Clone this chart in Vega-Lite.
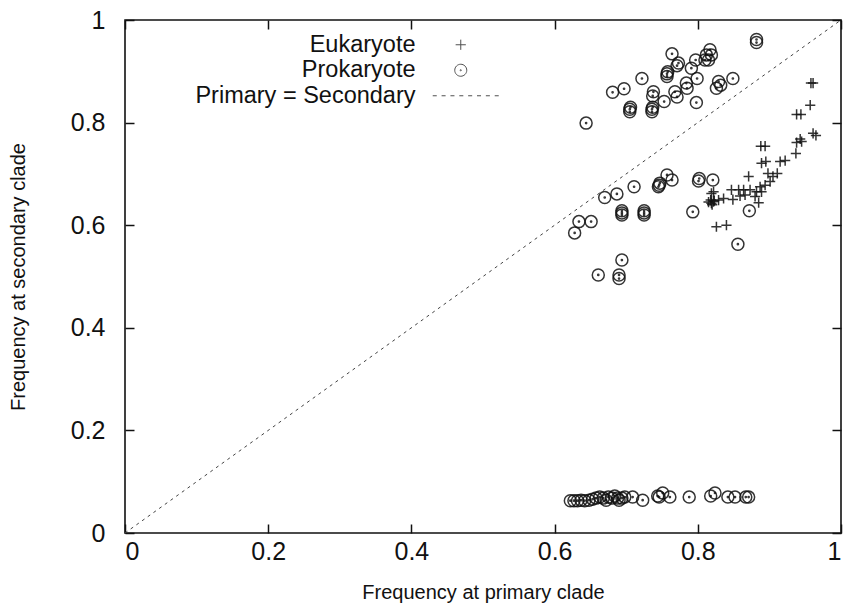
{
  "$schema": "https://vega.github.io/schema/vega-lite/v6.json",
  "width": 716,
  "height": 513,
  "autosize": {"type": "none"},
  "padding": {"left": 125, "top": 20, "right": 2, "bottom": 71},
  "background": "white",
  "config": {
    "font": "Liberation Sans",
    "view": {"stroke": "#111", "strokeWidth": 1.6},
    "axis": {
      "domain": false,
      "grid": false,
      "ticks": true,
      "tickColor": "#111",
      "tickWidth": 1.5,
      "tickSize": -9,
      "labelFont": "Liberation Sans",
      "labelFontSize": 25,
      "labelColor": "#111",
      "titleFont": "Liberation Sans",
      "titleFontSize": 20,
      "titleFontWeight": "normal",
      "titleColor": "#111"
    },
    "legend": {
      "labelFont": "Liberation Sans",
      "labelFontSize": 23.5,
      "labelColor": "#111"
    }
  },
  "datasets": {
    "diag": [{"p": 0, "s": 0}, {"p": 1, "s": 1}],
    "pts": [
      {"p": 0.965, "s": 0.775, "t": "Eukaryote"},
      {"p": 0.961, "s": 0.779, "t": "Eukaryote"},
      {"p": 0.938, "s": 0.761, "t": "Eukaryote"},
      {"p": 0.945, "s": 0.763, "t": "Eukaryote"},
      {"p": 0.937, "s": 0.740, "t": "Eukaryote"},
      {"p": 0.922, "s": 0.726, "t": "Eukaryote"},
      {"p": 0.915, "s": 0.724, "t": "Eukaryote"},
      {"p": 0.894, "s": 0.754, "t": "Eukaryote"},
      {"p": 0.888, "s": 0.754, "t": "Eukaryote"},
      {"p": 0.895, "s": 0.724, "t": "Eukaryote"},
      {"p": 0.889, "s": 0.721, "t": "Eukaryote"},
      {"p": 0.911, "s": 0.701, "t": "Eukaryote"},
      {"p": 0.905, "s": 0.695, "t": "Eukaryote"},
      {"p": 0.898, "s": 0.701, "t": "Eukaryote"},
      {"p": 0.901, "s": 0.685, "t": "Eukaryote"},
      {"p": 0.894, "s": 0.678, "t": "Eukaryote"},
      {"p": 0.887, "s": 0.675, "t": "Eukaryote"},
      {"p": 0.889, "s": 0.665, "t": "Eukaryote"},
      {"p": 0.882, "s": 0.665, "t": "Eukaryote"},
      {"p": 0.885, "s": 0.644, "t": "Eukaryote"},
      {"p": 0.871, "s": 0.695, "t": "Eukaryote"},
      {"p": 0.873, "s": 0.669, "t": "Eukaryote"},
      {"p": 0.864, "s": 0.669, "t": "Eukaryote"},
      {"p": 0.866, "s": 0.659, "t": "Eukaryote"},
      {"p": 0.857, "s": 0.669, "t": "Eukaryote"},
      {"p": 0.859, "s": 0.657, "t": "Eukaryote"},
      {"p": 0.847, "s": 0.669, "t": "Eukaryote"},
      {"p": 0.849, "s": 0.650, "t": "Eukaryote"},
      {"p": 0.836, "s": 0.652, "t": "Eukaryote"},
      {"p": 0.829, "s": 0.649, "t": "Eukaryote"},
      {"p": 0.822, "s": 0.646, "t": "Eukaryote"},
      {"p": 0.819, "s": 0.643, "t": "Eukaryote"},
      {"p": 0.818, "s": 0.649, "t": "Eukaryote"},
      {"p": 0.815, "s": 0.645, "t": "Eukaryote"},
      {"p": 0.823, "s": 0.648, "t": "Eukaryote"},
      {"p": 0.820, "s": 0.640, "t": "Eukaryote"},
      {"p": 0.822, "s": 0.665, "t": "Eukaryote"},
      {"p": 0.819, "s": 0.662, "t": "Eukaryote"},
      {"p": 0.826, "s": 0.597, "t": "Eukaryote"},
      {"p": 0.840, "s": 0.600, "t": "Eukaryote"},
      {"p": 0.880, "s": 0.656, "t": "Eukaryote"},
      {"p": 0.961, "s": 0.877, "t": "Eukaryote"},
      {"p": 0.958, "s": 0.877, "t": "Eukaryote"},
      {"p": 0.957, "s": 0.834, "t": "Eukaryote"},
      {"p": 0.938, "s": 0.816, "t": "Eukaryote"},
      {"p": 0.944, "s": 0.816, "t": "Eukaryote"},
      {"p": 0.943, "s": 0.768, "t": "Eukaryote"},
      {"p": 0.644, "s": 0.799, "t": "Prokaryote"},
      {"p": 0.681, "s": 0.859, "t": "Prokaryote"},
      {"p": 0.697, "s": 0.866, "t": "Prokaryote"},
      {"p": 0.705, "s": 0.821, "t": "Prokaryote"},
      {"p": 0.705, "s": 0.826, "t": "Prokaryote"},
      {"p": 0.706, "s": 0.830, "t": "Prokaryote"},
      {"p": 0.722, "s": 0.886, "t": "Prokaryote"},
      {"p": 0.736, "s": 0.821, "t": "Prokaryote"},
      {"p": 0.736, "s": 0.826, "t": "Prokaryote"},
      {"p": 0.737, "s": 0.830, "t": "Prokaryote"},
      {"p": 0.738, "s": 0.860, "t": "Prokaryote"},
      {"p": 0.737, "s": 0.852, "t": "Prokaryote"},
      {"p": 0.753, "s": 0.841, "t": "Prokaryote"},
      {"p": 0.757, "s": 0.890, "t": "Prokaryote"},
      {"p": 0.757, "s": 0.895, "t": "Prokaryote"},
      {"p": 0.758, "s": 0.899, "t": "Prokaryote"},
      {"p": 0.764, "s": 0.934, "t": "Prokaryote"},
      {"p": 0.773, "s": 0.916, "t": "Prokaryote"},
      {"p": 0.771, "s": 0.911, "t": "Prokaryote"},
      {"p": 0.768, "s": 0.860, "t": "Prokaryote"},
      {"p": 0.771, "s": 0.850, "t": "Prokaryote"},
      {"p": 0.784, "s": 0.877, "t": "Prokaryote"},
      {"p": 0.785, "s": 0.867, "t": "Prokaryote"},
      {"p": 0.791, "s": 0.906, "t": "Prokaryote"},
      {"p": 0.797, "s": 0.922, "t": "Prokaryote"},
      {"p": 0.799, "s": 0.886, "t": "Prokaryote"},
      {"p": 0.798, "s": 0.839, "t": "Prokaryote"},
      {"p": 0.812, "s": 0.932, "t": "Prokaryote"},
      {"p": 0.810, "s": 0.922, "t": "Prokaryote"},
      {"p": 0.817, "s": 0.942, "t": "Prokaryote"},
      {"p": 0.819, "s": 0.932, "t": "Prokaryote"},
      {"p": 0.815, "s": 0.922, "t": "Prokaryote"},
      {"p": 0.829, "s": 0.880, "t": "Prokaryote"},
      {"p": 0.832, "s": 0.873, "t": "Prokaryote"},
      {"p": 0.826, "s": 0.867, "t": "Prokaryote"},
      {"p": 0.849, "s": 0.886, "t": "Prokaryote"},
      {"p": 0.882, "s": 0.956, "t": "Prokaryote"},
      {"p": 0.882, "s": 0.962, "t": "Prokaryote"},
      {"p": 0.757, "s": 0.698, "t": "Prokaryote"},
      {"p": 0.764, "s": 0.688, "t": "Prokaryote"},
      {"p": 0.747, "s": 0.682, "t": "Prokaryote"},
      {"p": 0.745, "s": 0.675, "t": "Prokaryote"},
      {"p": 0.746, "s": 0.678, "t": "Prokaryote"},
      {"p": 0.711, "s": 0.675, "t": "Prokaryote"},
      {"p": 0.687, "s": 0.661, "t": "Prokaryote"},
      {"p": 0.670, "s": 0.654, "t": "Prokaryote"},
      {"p": 0.802, "s": 0.691, "t": "Prokaryote"},
      {"p": 0.801, "s": 0.686, "t": "Prokaryote"},
      {"p": 0.694, "s": 0.624, "t": "Prokaryote"},
      {"p": 0.694, "s": 0.628, "t": "Prokaryote"},
      {"p": 0.694, "s": 0.620, "t": "Prokaryote"},
      {"p": 0.725, "s": 0.624, "t": "Prokaryote"},
      {"p": 0.725, "s": 0.628, "t": "Prokaryote"},
      {"p": 0.725, "s": 0.620, "t": "Prokaryote"},
      {"p": 0.793, "s": 0.626, "t": "Prokaryote"},
      {"p": 0.634, "s": 0.607, "t": "Prokaryote"},
      {"p": 0.651, "s": 0.607, "t": "Prokaryote"},
      {"p": 0.628, "s": 0.585, "t": "Prokaryote"},
      {"p": 0.694, "s": 0.532, "t": "Prokaryote"},
      {"p": 0.661, "s": 0.503, "t": "Prokaryote"},
      {"p": 0.690, "s": 0.503, "t": "Prokaryote"},
      {"p": 0.690, "s": 0.496, "t": "Prokaryote"},
      {"p": 0.821, "s": 0.688, "t": "Prokaryote"},
      {"p": 0.872, "s": 0.628, "t": "Prokaryote"},
      {"p": 0.856, "s": 0.563, "t": "Prokaryote"},
      {"p": 0.622, "s": 0.063, "t": "Prokaryote"},
      {"p": 0.627, "s": 0.063, "t": "Prokaryote"},
      {"p": 0.632, "s": 0.063, "t": "Prokaryote"},
      {"p": 0.637, "s": 0.064, "t": "Prokaryote"},
      {"p": 0.642, "s": 0.063, "t": "Prokaryote"},
      {"p": 0.648, "s": 0.064, "t": "Prokaryote"},
      {"p": 0.653, "s": 0.066, "t": "Prokaryote"},
      {"p": 0.658, "s": 0.068, "t": "Prokaryote"},
      {"p": 0.663, "s": 0.070, "t": "Prokaryote"},
      {"p": 0.668, "s": 0.068, "t": "Prokaryote"},
      {"p": 0.672, "s": 0.064, "t": "Prokaryote"},
      {"p": 0.675, "s": 0.070, "t": "Prokaryote"},
      {"p": 0.680, "s": 0.068, "t": "Prokaryote"},
      {"p": 0.684, "s": 0.072, "t": "Prokaryote"},
      {"p": 0.688, "s": 0.068, "t": "Prokaryote"},
      {"p": 0.690, "s": 0.064, "t": "Prokaryote"},
      {"p": 0.694, "s": 0.068, "t": "Prokaryote"},
      {"p": 0.698, "s": 0.070, "t": "Prokaryote"},
      {"p": 0.709, "s": 0.070, "t": "Prokaryote"},
      {"p": 0.723, "s": 0.064, "t": "Prokaryote"},
      {"p": 0.744, "s": 0.072, "t": "Prokaryote"},
      {"p": 0.746, "s": 0.070, "t": "Prokaryote"},
      {"p": 0.751, "s": 0.078, "t": "Prokaryote"},
      {"p": 0.761, "s": 0.070, "t": "Prokaryote"},
      {"p": 0.788, "s": 0.070, "t": "Prokaryote"},
      {"p": 0.818, "s": 0.072, "t": "Prokaryote"},
      {"p": 0.824, "s": 0.078, "t": "Prokaryote"},
      {"p": 0.842, "s": 0.070, "t": "Prokaryote"},
      {"p": 0.852, "s": 0.070, "t": "Prokaryote"},
      {"p": 0.867, "s": 0.070, "t": "Prokaryote"},
      {"p": 0.871, "s": 0.070, "t": "Prokaryote"}
    ]
  },
  "resolve": {"axis": {"x": "independent", "y": "independent"}},
  "layer": [
    {
      "data": {"name": "diag"},
      "mark": {"type": "line", "color": "#444", "strokeWidth": 1, "strokeDash": [3, 4]},
      "encoding": {
        "x": {"field": "p", "type": "quantitative", "scale": {"domain": [0, 1], "nice": false},
          "axis": {"orient": "top", "labels": false, "title": null, "values": [0, 0.2, 0.4, 0.6, 0.8, 1]}},
        "y": {"field": "s", "type": "quantitative", "scale": {"domain": [0, 1], "nice": false},
          "axis": {"orient": "right", "labels": false, "title": null, "values": [0, 0.2, 0.4, 0.6, 0.8, 1]}}
      }
    },
    {
      "data": {"name": "pts"},
      "mark": {"type": "point", "filled": false, "strokeWidth": 1.5, "color": "#111", "opacity": 0.85},
      "encoding": {
        "x": {"field": "p", "type": "quantitative", "scale": {"domain": [0, 1], "nice": false},
          "axis": {"orient": "bottom", "values": [0, 0.2, 0.4, 0.6, 0.8, 1], "format": "~g", "labelPadding": 15, "title": "Frequency at primary clade", "titlePadding": 18}},
        "y": {"field": "s", "type": "quantitative", "scale": {"domain": [0, 1], "nice": false},
          "axis": {"orient": "left", "values": [0, 0.2, 0.4, 0.6, 0.8, 1], "format": "~g", "labelPadding": 29, "title": "Frequency at secondary clade", "titlePadding": 42}},
        "size": {"value": 144},
        "shape": {
          "field": "t", "type": "nominal",
          "scale": {
            "domain": ["Eukaryote", "Prokaryote", "Primary = Secondary"],
            "range": [
              "M-0.85,0H0.85M0,-0.85V0.85",
              "M1,0A1,1,0,1,1,-1,0A1,1,0,1,1,1,0ZM0.1,0A0.1,0.1,0,1,1,-0.1,0A0.1,0.1,0,1,1,0.1,0Z",
              "M-4.67,0h0.67M-3.194,0h0.67M-1.718,0h0.67M-0.242,0h0.67M1.234,0h0.67M2.71,0h0.67M4.186,0h0.67M5.662,0h0.67"
            ]
          },
          "legend": {
            "title": null,
            "orient": "none",
            "legendX": 324,
            "legendY": 13,
            "padding": 0,
            "symbolSize": 144,
            "symbolStrokeWidth": 1,
            "symbolStrokeColor": "#333",
            "symbolFillColor": "transparent",
            "labelAlign": "right",
            "labelOffset": -57,
            "rowPadding": 0.5,
            "labelLimit": 400
          }
        }
      }
    }
  ]
}
